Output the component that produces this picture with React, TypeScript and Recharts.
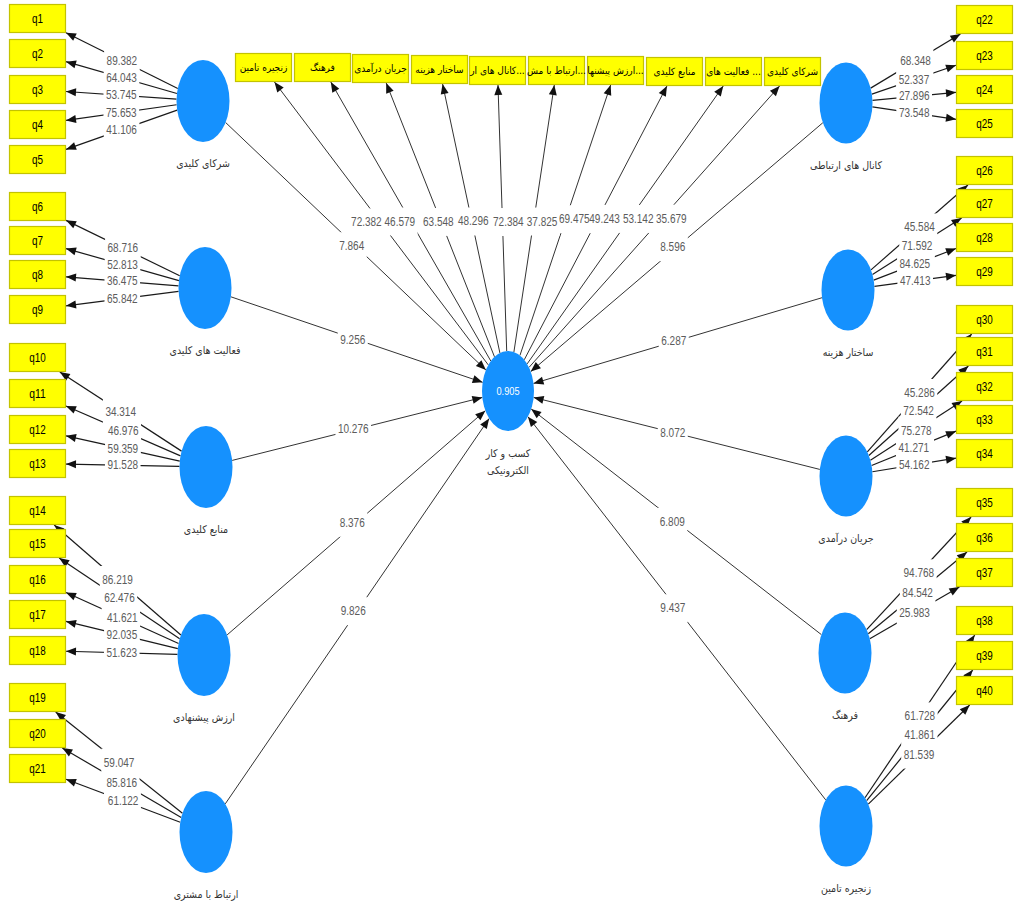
import React from 'react';
import { ScatterChart, Scatter, XAxis, YAxis } from 'recharts';

const leftConstructs = ['شرکای کلیدی', 'فعالیت های کلیدی', 'منابع کلیدی', 'ارزش پیشنهادی', 'ارتباط با مشتری'];
const rightConstructs = ['کانال های ارتباطی', 'ساختار هزینه', 'جریان درآمدی', 'فرهنگ', 'زنجیره تامین'];
const centralName = ['کسب و کار', 'الکترونیکی'];
const centralR2 = 0.905;

// path t-values, construct -> central construct
const leftPaths = [7.864, 9.256, 10.276, 8.376, 9.826];
const rightPaths = [8.596, 6.287, 8.072, 6.809, 9.437];

// number of indicators per construct
const leftIndicatorCounts = [5, 4, 4, 5, 3];
const rightIndicatorCounts = [4, 4, 5, 3, 3];

// outer loadings t-values, q1..q21 then q22..q40
const leftLoadings = [
  89.382, 64.043, 53.745, 75.653, 41.106,
  68.716, 52.813, 36.475, 65.842,
  34.314, 46.976, 59.359, 91.528,
  86.219, 62.476, 41.621, 92.035, 51.623,
  59.047, 85.816, 61.122,
];
const rightLoadings = [
  68.348, 52.337, 27.896, 73.548,
  45.584, 71.592, 84.625, 47.413,
  45.286, 72.542, 75.278, 41.271, 54.162,
  94.768, 84.542, 25.983,
  61.728, 41.861, 81.539,
];

// second order indicators on top
const topBoxLabels = [
  'زنجیره تامین', 'فرهنگ', 'جریان درآمدی', 'ساختار هزینه', 'کانال های ار...',
  'ارتباط با مش...', 'ارزش پیشنها...', 'منابع کلیدی', 'فعالیت های ...', 'شرکای کلیدی',
];
const topLoadings = [72.382, 46.579, 63.548, 48.296, 72.384, 37.825, 69.475, 49.243, 53.142, 35.679];

// ---- layout (diagram positions) ----
const leftCenters = [[203, 101], [205, 288], [206, 467], [204, 655], [206, 832]];
const rightCenters = [[846, 103], [848, 290], [846, 476], [845, 653], [846, 826]];
const centralPos = [508, 391];
const leftBoxTops = [4, 39, 75, 110, 145, 192, 226, 260, 295, 343, 379, 415, 449, 496, 529, 565, 600, 636, 683, 719, 754];
const rightBoxTops = [5, 41, 75, 109, 156, 189, 223, 257, 305, 337, 372, 405, 439, 488, 523, 558, 606, 641, 676];
const topBoxLefts = [235, 294, 352, 411, 469, 528, 587, 646, 705, 764];
const topBoxTops = [53, 53, 54, 55, 56, 56, 56, 57, 57, 57];
const topLabelNudge = [[-15, -1], [-11, 0], [-2, 2], [2, 3], [6, 4], [8, 3], [9, -1], [9, -4], [13, -6], [17, -8]];

const W = 1015;
const H = 903;
const BOX_W = 57;
const BOX_H = 29;
const LABEL_SIZE = 12.5;
const NUM_FONT = "'Liberation Sans', Arial, sans-serif";
const FA_FONT = "'DejaVu Sans Condensed', 'DejaVu Sans', sans-serif";

// narrow look: natural Liberation Sans width squeezed
const narrowWidth = (s: string, size: number) =>
  [...s].reduce((w, ch) => w + (ch === '.' ? 0.278 : 0.556), 0) * size * 0.8;

type Node = { id: string; kind: 'ellipse' | 'box'; cx: number; cy: number; w: number; h: number; text?: string };

const nodes: Record<string, Node> = {};
const add = (n: Node) => { nodes[n.id] = n; };

add({ id: 'C', kind: 'ellipse', cx: centralPos[0], cy: centralPos[1], w: 52, h: 80 });
leftCenters.forEach((c, i) => add({ id: 'L' + i, kind: 'ellipse', cx: c[0], cy: c[1], w: 53, h: 82 }));
rightCenters.forEach((c, i) => add({ id: 'R' + i, kind: 'ellipse', cx: c[0], cy: c[1], w: 53, h: 81 }));
leftBoxTops.forEach((t, k) => add({ id: 'q' + (k + 1), kind: 'box', cx: 9 + BOX_W / 2, cy: t + BOX_H / 2, w: BOX_W, h: BOX_H, text: 'q' + (k + 1) }));
rightBoxTops.forEach((t, k) => {
  const n = leftBoxTops.length + k + 1;
  add({ id: 'q' + n, kind: 'box', cx: 956 + BOX_W / 2, cy: t + BOX_H / 2, w: BOX_W, h: BOX_H, text: 'q' + n });
});
topBoxLefts.forEach((l, i) => add({ id: 'T' + i, kind: 'box', cx: l + BOX_W / 2, cy: topBoxTops[i] + BOX_H / 2, w: BOX_W, h: BOX_H, text: topBoxLabels[i] }));

type Edge = { from: string; to: string; value: number; kind: 'outer' | 'inner' | 'top'; nudge: number[] };
const edges: Edge[] = [];
leftPaths.forEach((v, i) => edges.push({ from: 'L' + i, to: 'C', value: v, kind: 'inner', nudge: [-4, 0] }));
rightPaths.forEach((v, i) => edges.push({ from: 'R' + i, to: 'C', value: v, kind: 'inner', nudge: [-4, 0] }));
let qi = 0;
leftIndicatorCounts.forEach((cnt, i) => {
  for (let j = 0; j < cnt; j++) {
    edges.push({ from: 'L' + i, to: 'q' + (qi + 1), value: leftLoadings[qi], kind: 'outer', nudge: [0, 0] });
    qi++;
  }
});
let ri = 0;
rightIndicatorCounts.forEach((cnt, i) => {
  for (let j = 0; j < cnt; j++) {
    edges.push({ from: 'R' + i, to: 'q' + (qi + 1), value: rightLoadings[ri], kind: 'outer', nudge: [0, 0] });
    qi++;
    ri++;
  }
});
topLoadings.forEach((v, i) => edges.push({ from: 'C', to: 'T' + i, value: v, kind: 'top', nudge: topLabelNudge[i] }));

// point on the border of a node in the direction of (tx, ty)
function clip(n: Node, tx: number, ty: number) {
  const dx = tx - n.cx;
  const dy = ty - n.cy;
  let t;
  if (n.kind === 'ellipse') {
    t = 1 / Math.hypot(dx / (n.w / 2), dy / (n.h / 2));
  } else {
    t = Math.min(n.w / 2 / Math.max(Math.abs(dx), 1e-9), n.h / 2 / Math.max(Math.abs(dy), 1e-9));
  }
  return { x: n.cx + dx * t, y: n.cy + dy * t };
}

const segments = edges.map((e) => {
  const a = nodes[e.from];
  const b = nodes[e.to];
  const p1 = clip(a, b.cx, b.cy);
  const p2 = clip(b, a.cx, a.cy);
  return { ...e, p1, p2 };
});

const arrowData = segments.map((s) => ({ x: s.p2.x, y: s.p2.y, angle: Math.atan2(s.p2.y - s.p1.y, s.p2.x - s.p1.x) }));
const labelData = segments.map((s) => ({
  x: (s.p1.x + s.p2.x) / 2 + s.nudge[0],
  y: (s.p1.y + s.p2.y) / 2 + s.nudge[1],
  text: s.value.toFixed(3),
}));
const ellipseData = Object.values(nodes).filter((n) => n.kind === 'ellipse').map((n) => ({ x: n.cx, y: n.cy, w: n.w, h: n.h, id: n.id }));
const boxData = Object.values(nodes).filter((n) => n.kind === 'box').map((n) => ({ x: n.cx, y: n.cy, w: n.w, h: n.h, text: n.text, top: n.id[0] === 'T' }));
const nameData = [
  ...leftConstructs.map((t, i) => ({ x: leftCenters[i][0], y: leftCenters[i][1] + 62, text: t })),
  ...rightConstructs.map((t, i) => ({ x: rightCenters[i][0], y: rightCenters[i][1] + 62, text: t })),
  { x: centralPos[0], y: centralPos[1] + 62, text: centralName[0] },
  { x: centralPos[0], y: centralPos[1] + 79, text: centralName[1] },
];

const Empty = () => <g />;

const Arrow = (props: any) => {
  const { cx, cy, payload } = props;
  const L = 10;
  const Wd = 4;
  const ux = Math.cos(payload.angle);
  const uy = Math.sin(payload.angle);
  const bx = cx - ux * L;
  const by = cy - uy * L;
  return <polygon points={`${cx},${cy} ${bx - uy * Wd},${by + ux * Wd} ${bx + uy * Wd},${by - ux * Wd}`} fill="#111" />;
};

const LabelBg = (props: any) => {
  const { cx, cy, payload } = props;
  const w = narrowWidth(payload.text, LABEL_SIZE) + 5;
  return <rect x={cx - w / 2} y={cy - 14} width={w} height={28} fill="#fff" />;
};

const LabelText = (props: any) => {
  const { cx, cy, payload } = props;
  return (
    <text
      x={cx}
      y={cy}
      textAnchor="middle"
      dominantBaseline="central"
      fontSize={LABEL_SIZE}
      fontFamily={NUM_FONT}
      fill="#5c5c5c"
      textLength={narrowWidth(payload.text, LABEL_SIZE)}
      lengthAdjust="spacingAndGlyphs"
    >
      {payload.text}
    </text>
  );
};

const EllipseShape = (props: any) => {
  const { cx, cy, payload } = props;
  return (
    <g>
      <ellipse cx={cx} cy={cy} rx={payload.w / 2} ry={payload.h / 2} fill="#1591fe" />
      {payload.id === 'C' && (
        <text
          x={cx}
          y={cy}
          textAnchor="middle"
          dominantBaseline="central"
          fontSize={11.5}
          fontFamily={NUM_FONT}
          fill="#fff"
          textLength={narrowWidth('0.905', 11.5)}
          lengthAdjust="spacingAndGlyphs"
        >
          {centralR2.toFixed(3)}
        </text>
      )}
    </g>
  );
};

const BoxShape = (props: any) => {
  const { cx, cy, payload } = props;
  const top = payload.top;
  return (
    <g>
      <rect x={cx - payload.w / 2 + 0.5} y={cy - payload.h / 2 + 0.5} width={payload.w - 1} height={payload.h - 1} fill="#ffff00" stroke="#c3c300" strokeWidth={1.2} />
      {top ? (
        <text x={cx} y={cy} textAnchor="middle" dominantBaseline="central" fontSize={10} fontFamily={FA_FONT} fill="#000">
          {payload.text}
        </text>
      ) : (
        <text
          x={cx}
          y={cy}
          textAnchor="middle"
          dominantBaseline="central"
          fontSize={13}
          fontFamily={NUM_FONT}
          fill="#000"
          textLength={narrowWidth(payload.text, 13) * 0.95}
          lengthAdjust="spacingAndGlyphs"
        >
          {payload.text}
        </text>
      )}
    </g>
  );
};

const NameText = (props: any) => {
  const { cx, cy, payload } = props;
  return (
    <text x={cx} y={cy} textAnchor="middle" dominantBaseline="central" fontSize={10.5} fontFamily={FA_FONT} fill="#333">
      {payload.text}
    </text>
  );
};

export default function App() {
  return (
    <div style={{ position: 'absolute', left: 0, top: 0, width: W, height: H, background: '#fff' }}>
      <ScatterChart width={W} height={H} margin={{ top: 0, right: 0, bottom: 0, left: 0 }}>
        <XAxis type="number" dataKey="x" domain={[0, W]} hide allowDataOverflow />
        <YAxis type="number" dataKey="y" domain={[0, H]} reversed hide allowDataOverflow />
        {segments.map((s, i) => (
          <Scatter
            key={'e' + i}
            data={[s.p1, s.p2]}
            fill={s.kind === 'outer' ? '#1a1a1a' : '#333'}
            line={{ stroke: s.kind === 'outer' ? '#1a1a1a' : '#333', strokeWidth: s.kind === 'outer' ? 1.2 : 1 }}
            shape={Empty}
            isAnimationActive={false}
          />
        ))}
        <Scatter data={labelData} shape={LabelBg} isAnimationActive={false} />
        <Scatter data={arrowData} shape={Arrow} isAnimationActive={false} />
        <Scatter data={ellipseData} shape={EllipseShape} isAnimationActive={false} />
        <Scatter data={boxData} shape={BoxShape} isAnimationActive={false} />
        <Scatter data={labelData} shape={LabelText} isAnimationActive={false} />
        <Scatter data={nameData} shape={NameText} isAnimationActive={false} />
      </ScatterChart>
    </div>
  );
}
